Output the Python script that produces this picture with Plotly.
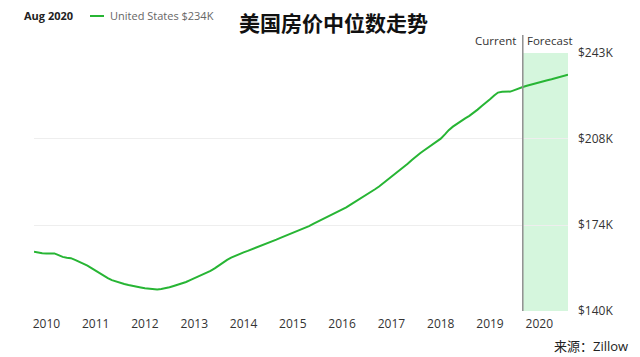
import plotly.graph_objects as go
import pandas as pd

# ---- data ----
start_month = "2009-10-01"
values_k = [
    163.7, 163.3, 163.1, 163.0, 163.0, 163.0, 162.3, 161.6, 161.3, 161.1,
    160.4, 159.7, 159.0, 158.1, 157.1, 156.0, 155.0, 154.0, 153.1, 152.3,
    151.7, 151.2, 150.8, 150.4, 150.0, 149.7, 149.4, 149.1, 148.9, 148.7,
    148.6, 148.8, 149.1, 149.5, 150.0, 150.5, 151.1, 151.6, 152.3, 153.0,
    153.7, 154.5, 155.3, 156.0, 157.0, 158.2, 159.4, 160.4, 161.3, 162.1,
    162.8, 163.4, 164.0, 164.6, 165.1, 165.6, 166.3, 167.0, 167.8, 168.5,
    169.2, 169.9, 170.5, 171.1, 171.7, 172.3, 173.1, 173.9, 174.8, 175.6,
    176.3, 177.1, 177.9, 178.8, 179.6, 180.5, 181.4, 182.4, 183.4, 184.3,
    185.3, 186.4, 187.5, 188.6, 189.7, 191.0, 192.3, 193.6, 194.9, 196.2,
    197.5, 198.8, 200.3, 201.8, 203.0, 204.2, 205.4, 206.6, 207.7, 208.8,
    210.5, 212.2, 213.6, 214.8, 215.9, 216.9, 217.9, 219.0, 220.4, 221.8,
    223.0, 224.5, 226.0, 227.2, 227.5, 227.5, 227.6, 228.2, 228.9, 229.4,
    229.9, 230.4, 230.9, 231.3, 231.7, 232.1, 232.5, 233.0, 233.5, 233.9,
    234.3,
]
months = pd.date_range(start_month, periods=len(values_k), freq="MS")
forecast_start = "2019-09-01"
year_ticks = ["2010", "2011", "2012", "2013", "2014", "2015",
              "2016", "2017", "2018", "2019", "2020"]
y_ticks = [140, 174.33, 208.67, 243]
y_tick_text = ["$140K", "$174K", "$208K", "$243K"]
series_name = "United States $234K"
latest_label = "Aug 2020"
title_text = "美国房价中位数走势"
source_text = "来源：Zillow"

FONT = "Open Sans, Noto Sans CJK SC, sans-serif"
GREEN = "#27b534"

fig = go.Figure()
fig.add_trace(go.Scatter(
    x=months, y=values_k, mode="lines",
    line=dict(color=GREEN, width=2), showlegend=False, hoverinfo="skip"))

x_end = months[-1]
# forecast band
fig.add_shape(type="rect", xref="x", yref="paper",
              x0=forecast_start, x1=x_end, y0=0, y1=1,
              fillcolor="#d5f6dd", line=dict(width=0), layer="below")
# current divider
fig.add_shape(type="line", xref="x", yref="paper",
              x0=forecast_start, x1=forecast_start, y0=0, y1=1.07,
              line=dict(color="#8f8f8f", width=1.5))

# page body has an 8px margin: figure is drawn offset by (8, 8)
OFF = 8
fig.update_layout(
    width=640 - OFF, height=357 - OFF,
    margin=dict(l=34 - OFF, r=72, t=53 - OFF, b=46),
    paper_bgcolor="white", plot_bgcolor="white",
    font=dict(family=FONT, color="#333"),
    xaxis=dict(
        range=[months[0], x_end],
        tickvals=[f"{y}-01-01" for y in year_ticks],
        ticktext=year_ticks,
        showgrid=False, zeroline=False, showline=False,
        ticks="", tickfont=dict(size=12, color="#333"),
        ticklabelstandoff=4,
    ),
    yaxis=dict(
        range=[140, 243], side="right",
        tickvals=y_ticks, ticktext=y_tick_text,
        showgrid=True, gridcolor="#eeeeee", gridwidth=1,
        zeroline=False, showline=False, ticks="",
        tickfont=dict(size=12, color="#333"),
        ticklabelstandoff=9,
    ),
)

ann = []
PL, PR, PT, PB = 34, 568, 53, 311
def add(xp, yp, text, size, color="#333", anchor="left", bold=False):
    ann.append(dict(
        text=f"<b>{text}</b>" if bold else text,
        x=(xp - PL) / (PR - PL), y=(PB - yp) / (PB - PT),
        xref="paper", yref="paper",
        xanchor=anchor, yanchor="middle", showarrow=False,
        font=dict(size=size, color=color, family=FONT)))

add(22, 16, latest_label, 11, "#222", "left", True)
add(108, 16, series_name, 11, "#666", "left")
add(333, 23, title_text, 21, "#111", "center", True)
add(518, 41, "Current", 11.5, "#333", "right")
add(525, 41, "Forecast", 11.5, "#333", "left")
add(630, 346, source_text, 13, "#222", "right")

fig.update_layout(annotations=ann)
# legend line sample
fig.add_shape(type="line", xref="paper", yref="paper",
              x0=(90 - PL) / (PR - PL), x1=(104 - PL) / (PR - PL),
              y0=(PB - 16) / (PB - PT), y1=(PB - 16) / (PB - PT),
              line=dict(color=GREEN, width=2))

fig.write_html("out.html")
